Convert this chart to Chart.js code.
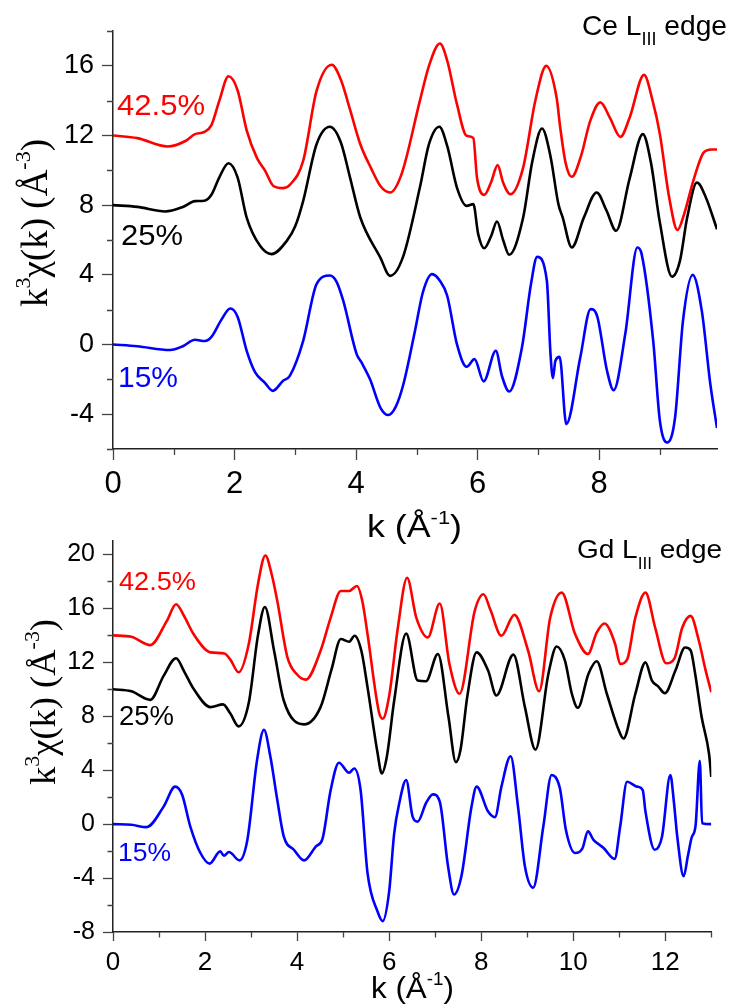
<!DOCTYPE html>
<html>
<head>
<meta charset="utf-8">
<script src="https://cdn.jsdelivr.net/npm/chart.js@4.4.1/dist/chart.umd.min.js"></script>
<style>
  html, body { margin: 0; padding: 0; background: #fff; }
  #wrap { position: relative; width: 731px; height: 1006px; overflow: hidden; }
  canvas { position: absolute; left: 0; }
  #ce { top: 0; }
  #gd { top: 500px; }
</style>
</head>
<body>
<div id="wrap">
  <canvas id="ce" width="731" height="560"></canvas>
  <canvas id="gd" width="731" height="506"></canvas>
</div>
<script>
// Ce L_III edge, k^3 chi(k), curves offset by 12 / 8 / 0
const ceK425 = [0, 0.4, 0.9, 1.2, 1.35, 1.5, 1.62, 1.75, 1.9, 2.05, 2.2, 2.37, 2.5, 2.64, 2.8, 2.92, 3.13, 3.35, 3.6, 3.75, 3.9, 4.07, 4.25, 4.4, 4.56, 4.75, 5.05, 5.2, 5.38, 5.5, 5.66, 5.82, 5.93, 5.99, 6.11, 6.22, 6.33, 6.42, 6.54, 6.75, 6.95, 7.13, 7.3, 7.36, 7.45, 7.55, 7.7, 7.85, 8.02, 8.18, 8.35, 8.5, 8.74, 8.88, 9.0, 9.15, 9.29, 9.4, 9.55, 9.72, 9.85, 9.94];
const ceY425 = [12.0, 11.85, 11.37, 11.7, 12.08, 12.2, 12.6, 14.0, 15.4, 14.6, 12.3, 10.7, 10.0, 9.1, 8.98, 9.2, 10.55, 14.56, 16.06, 15.2, 13.5, 11.5, 10.1, 9.1, 8.73, 9.8, 13.99, 16.0, 17.28, 16.3, 13.8, 11.98, 11.85, 9.59, 8.59, 9.3, 10.3, 9.3, 8.63, 10.16, 14.0, 16.0, 14.18, 12.46, 10.4, 9.63, 10.8, 12.8, 13.9, 13.0, 11.92, 13.0, 15.48, 14.0, 12.08, 8.5, 6.57, 7.5, 9.4, 11.02, 11.2, 11.2];
const ceK25 = [0, 0.4, 0.86, 1.15, 1.35, 1.5, 1.62, 1.75, 1.9, 2.05, 2.2, 2.42, 2.61, 2.86, 3.0, 3.13, 3.35, 3.57, 3.75, 3.9, 4.07, 4.4, 4.56, 4.77, 5.05, 5.2, 5.37, 5.5, 5.66, 5.82, 5.93, 6.01, 6.11, 6.22, 6.32, 6.42, 6.52, 6.75, 6.9, 7.06, 7.2, 7.33, 7.4, 7.55, 7.75, 7.96, 8.12, 8.28, 8.5, 8.72, 8.85, 9.0, 9.2, 9.33, 9.45, 9.61, 9.75, 9.94];
const ceY25 = [8.0, 7.9, 7.64, 7.9, 8.23, 8.25, 8.6, 9.6, 10.41, 9.6, 7.29, 5.67, 5.19, 5.95, 6.8, 8.25, 11.5, 12.5, 11.6, 9.6, 7.29, 4.99, 3.94, 5.0, 9.01, 11.5, 12.5, 11.4, 9.01, 7.96, 8.06, 6.34, 5.53, 6.2, 7.06, 6.0, 5.15, 7.29, 10.5, 12.4, 10.8, 8.06, 7.3, 5.57, 7.3, 8.73, 7.7, 6.53, 9.5, 12.08, 10.5, 7.0, 3.89, 4.8, 7.3, 9.3, 8.5, 6.62];
const ceK15 = [0, 0.4, 0.94, 1.15, 1.35, 1.51, 1.62, 1.78, 1.93, 2.05, 2.2, 2.34, 2.5, 2.63, 2.8, 2.91, 3.13, 3.35, 3.57, 3.68, 3.79, 4.01, 4.09, 4.23, 4.4, 4.53, 4.65, 4.78, 4.97, 5.1, 5.25, 5.38, 5.5, 5.66, 5.82, 5.95, 6.1, 6.3, 6.4, 6.52, 6.73, 6.88, 6.98, 7.14, 7.2, 7.24, 7.28, 7.35, 7.46, 7.69, 7.86, 7.97, 8.13, 8.24, 8.43, 8.63, 8.7, 8.89, 9.0, 9.12, 9.25, 9.38, 9.54, 9.69, 9.83, 9.94];
const ceY15 = [0, -0.1, -0.32, -0.1, 0.27, 0.2, 0.44, 1.4, 2.07, 1.6, -0.36, -1.6, -2.2, -2.66, -2.08, -1.8, 0.21, 3.47, 3.96, 3.6, 2.5, -0.55, -1.03, -2.0, -3.62, -4.05, -3.6, -2.27, 0.79, 3.0, 4.04, 3.66, 2.8, 0.02, -1.28, -0.84, -2.12, -0.36, -1.8, -2.7, -0.17, 3.5, 5.03, 3.66, -0.55, -1.93, -0.94, -0.71, -4.57, -0.74, 2.03, 1.6, -1.51, -2.62, 0.6, 5.57, 5.19, 0.21, -4.38, -5.63, -4.19, 1.36, 4.0, 1.93, -2.27, -4.8];

// Gd L_III edge, curves offset by 14 / 10 / 0
const gdK425 = [0, 0.4, 0.81, 1.17, 1.37, 1.55, 1.75, 2.12, 2.42, 2.55, 2.73, 2.95, 3.15, 3.31, 3.45, 3.57, 3.79, 4.0, 4.19, 4.51, 4.73, 4.95, 5.13, 5.3, 5.42, 5.53, 5.78, 5.86, 6.0, 6.19, 6.39, 6.59, 6.84, 7.1, 7.31, 7.53, 7.86, 8.05, 8.2, 8.44, 8.72, 9.02, 9.26, 9.5, 9.75, 10.04, 10.32, 10.51, 10.68, 10.91, 11.02, 11.17, 11.35, 11.57, 11.78, 12.02, 12.2, 12.37, 12.55, 12.73, 12.87, 13.0];
const gdY425 = [14.0, 13.9, 13.28, 15.08, 16.31, 15.4, 14.1, 12.74, 12.66, 12.2, 11.26, 13.36, 17.8, 19.93, 18.5, 16.55, 12.37, 11.1, 10.72, 12.86, 15.32, 17.29, 17.29, 17.66, 16.5, 14.1, 8.3, 7.82, 9.5, 14.58, 18.27, 15.32, 13.85, 16.36, 11.88, 9.67, 15.82, 17.05, 15.9, 13.97, 15.52, 12.86, 9.86, 15.32, 17.17, 14.1, 12.62, 14.21, 14.88, 13.36, 11.88, 12.2, 15.32, 17.17, 14.58, 11.93, 12.3, 14.58, 15.45, 13.6, 11.5, 9.79];
const gdK25 = [0, 0.4, 0.81, 1.1, 1.37, 1.55, 1.75, 2.12, 2.39, 2.55, 2.73, 2.95, 3.15, 3.3, 3.5, 3.71, 4.15, 4.51, 4.75, 4.95, 5.13, 5.25, 5.4, 5.53, 5.75, 5.84, 5.95, 6.11, 6.37, 6.62, 6.8, 7.06, 7.29, 7.45, 7.55, 7.7, 7.9, 8.15, 8.33, 8.7, 8.95, 9.18, 9.46, 9.64, 9.82, 9.97, 10.1, 10.33, 10.51, 10.73, 10.99, 11.09, 11.35, 11.57, 11.71, 11.85, 11.99, 12.22, 12.43, 12.55, 12.65, 12.79, 12.95, 13.0];
const gdY25 = [10.0, 9.85, 9.22, 11.0, 12.3, 11.3, 10.04, 8.68, 8.88, 8.2, 7.25, 9.0, 14.0, 16.11, 12.86, 9.17, 7.4, 8.68, 11.5, 13.73, 13.53, 13.97, 12.8, 10.16, 5.24, 3.76, 5.0, 9.17, 14.14, 10.65, 10.6, 12.62, 7.94, 4.6, 5.5, 9.5, 12.74, 11.39, 9.54, 12.57, 8.68, 5.53, 11.14, 13.18, 12.13, 9.67, 8.63, 11.14, 12.08, 9.67, 6.96, 6.35, 9.67, 12.0, 10.65, 10.2, 9.71, 11.39, 13.1, 12.9, 11.14, 7.94, 5.24, 3.5];
const gdK15 = [0, 0.4, 0.73, 1.1, 1.35, 1.5, 1.68, 1.9, 2.1, 2.33, 2.41, 2.52, 2.75, 2.92, 3.13, 3.28, 3.42, 3.57, 3.71, 3.93, 4.15, 4.41, 4.55, 4.73, 4.91, 5.13, 5.24, 5.38, 5.53, 5.75, 5.86, 6.0, 6.11, 6.22, 6.37, 6.51, 6.62, 6.8, 6.95, 7.1, 7.28, 7.41, 7.57, 7.79, 7.9, 8.15, 8.3, 8.44, 8.64, 8.8, 8.95, 9.13, 9.35, 9.53, 9.71, 9.84, 10.04, 10.2, 10.32, 10.44, 10.66, 10.9, 11.02, 11.17, 11.39, 11.51, 11.57, 11.77, 11.93, 12.11, 12.19, 12.26, 12.4, 12.49, 12.57, 12.66, 12.75, 12.8, 13.0];
const gdY15 = [0, -0.05, -0.22, 1.3, 2.78, 2.2, -0.18, -2.14, -2.93, -2.02, -2.34, -2.07, -2.69, -1.16, 4.75, 7.0, 4.99, 1.79, -0.91, -1.9, -2.69, -1.65, -1.11, 2.53, 4.55, 3.81, 4.13, 2.53, -3.62, -6.5, -7.19, -5.0, -0.66, 1.55, 3.27, 0.56, 0.19, 1.55, 2.21, 1.67, -3.13, -5.22, -3.87, 1.3, 2.78, 0.93, 0.52, 2.78, 5.04, 1.3, -3.13, -4.72, -0.18, 3.64, 2.66, -0.42, -2.14, -1.8, -0.54, -1.16, -1.77, -2.58, -0.18, 3.14, 2.78, 2.53, 0.93, -1.9, -0.91, 3.64, 1.55, -0.91, -3.87, -2.39, -1.03, -0.05, 4.69, 0.07, 0.0];

// ticks
const ceXTicks = [0, 2, 4, 6, 8];
const ceXMinor = [1, 3, 5, 7, 9];
const ceYTicks = [-4, 0, 4, 8, 12, 16];
const ceYMinor = [-6, -2, 2, 6, 10, 14, 18];
const gdXTicks = [0, 2, 4, 6, 8, 10, 12];
const gdXMinor = [1, 3, 5, 7, 9, 11, 13];
const gdYTicks = [-8, -4, 0, 4, 8, 12, 16, 20];
const gdYMinor = [-6, -2, 2, 6, 10, 14, 18];

const RED = "#ff0000";
const BLACK = "#000000";
const BLUE = "#0000ff";
const SANS = "'Liberation Sans', Arial, sans-serif";
const SERIF = "'Liberation Serif', 'Times New Roman', serif";

function pts(ks, ys) {
  return ks.map((k, i) => ({ x: k, y: ys[i] }));
}

function series(ks, ys, color) {
  return {
    data: pts(ks, ys),
    borderColor: color,
    borderWidth: 2.6,
    pointRadius: 0,
    fill: false,
    cubicInterpolationMode: "monotone",
  };
}

// text with super/subscripts, squeezed or stretched to the measured width
function drawRich(ctx, l) {
  ctx.save();
  ctx.translate(l.x, l.y);
  if (l.rotate) ctx.rotate(-Math.PI / 2);
  ctx.fillStyle = l.color || "#000";
  ctx.textBaseline = "alphabetic";
  ctx.textAlign = "left";
  const font = (p) => `${Math.round(l.size * (p[1] || 1))}px ${l.family || SANS}`;
  let natural = 0;
  l.parts.forEach((p) => {
    ctx.font = font(p);
    natural += ctx.measureText(p[0]).width;
  });
  const sx = l.width ? l.width / natural : 1;
  ctx.scale(sx, 1);
  let cx = 0;
  l.parts.forEach((p) => {
    ctx.font = font(p);
    ctx.fillText(p[0], cx, -(p[2] || 0) * l.size);
    cx += ctx.measureText(p[0]).width;
  });
  ctx.restore();
}

const extras = {
  id: "extras",
  afterDraw(chart, args, opts) {
    const { ctx, chartArea } = chart;
    const xs = chart.scales.x;
    const ys = chart.scales.y;
    ctx.save();
    ctx.strokeStyle = "#444";
    ctx.lineWidth = 1.3;
    ctx.beginPath();
    opts.xMinor.forEach((v) => {
      const px = Math.round(xs.getPixelForValue(v)) + 0.5;
      ctx.moveTo(px, chartArea.bottom);
      ctx.lineTo(px, chartArea.bottom + opts.minorLen);
    });
    opts.yMinor.forEach((v) => {
      const py = Math.round(ys.getPixelForValue(v)) + 0.5;
      ctx.moveTo(chartArea.left - opts.minorLen, py);
      ctx.lineTo(chartArea.left, py);
    });
    ctx.stroke();
    ctx.restore();
    opts.labels.forEach((l) => drawRich(ctx, l));
  },
};

function makeChart(id, cfg) {
  return new Chart(document.getElementById(id), {
    type: "line",
    data: { datasets: cfg.datasets },
    options: {
      responsive: false,
      animation: false,
      events: [],
      layout: { padding: { left: 0, top: cfg.top, right: cfg.right, bottom: 0 } },
      plugins: {
        legend: { display: false },
        tooltip: { enabled: false },
        extras: { xMinor: cfg.xMinor, yMinor: cfg.yMinor, minorLen: cfg.minorLen, labels: cfg.labels },
      },
      scales: {
        x: {
          type: "linear",
          min: cfg.xMin,
          max: cfg.xMax,
          afterBuildTicks: (s) => { s.ticks = cfg.xTicks.map((v) => ({ value: v })); },
          afterFit: (s) => { s.height = cfg.xHeight; },
          grid: { drawOnChartArea: false, tickLength: cfg.xTickLen, tickColor: "#444", tickWidth: 1.3 },
          border: { color: "#222", width: 1.5 },
          ticks: { color: "#000", font: { family: SANS, size: cfg.xFont }, padding: cfg.xPad, maxRotation: 0, autoSkip: false },
        },
        y: {
          type: "linear",
          min: cfg.yMin,
          max: cfg.yMax,
          afterBuildTicks: (s) => { s.ticks = cfg.yTicks.map((v) => ({ value: v })); },
          afterFit: (s) => { s.width = 113; },
          grid: { drawOnChartArea: false, tickLength: cfg.yTickLen, tickColor: "#444", tickWidth: 1.3 },
          border: { color: "#222", width: 1.5 },
          ticks: { color: "#000", font: { family: SANS, size: cfg.yFont }, padding: 8, autoSkip: false },
        },
      },
    },
    plugins: [extras],
  });
}

makeChart("ce", {
  datasets: [series(ceK425, ceY425, RED), series(ceK25, ceY25, BLACK), series(ceK15, ceY15, BLUE)],
  top: 31, right: 14,
  xMin: 0, xMax: 9.94, yMin: -6, yMax: 18,
  xTicks: ceXTicks, yTicks: ceYTicks, xMinor: ceXMinor, yMinor: ceYMinor,
  xHeight: 111, xTickLen: 11, yTickLen: 11, minorLen: 6,
  xFont: 31, yFont: 27, xPad: 6,
  labels: [
    { parts: [["Ce L"], ["III", 0.64, -0.36], [" edge"]], x: 582, y: 35, size: 28, width: 145 },
    { parts: [["42.5%"]], x: 117, y: 115, size: 29, width: 88, color: RED },
    { parts: [["25%"]], x: 121, y: 245, size: 30, width: 62, color: BLACK },
    { parts: [["15%"]], x: 118, y: 387, size: 29, width: 60, color: BLUE },
    { parts: [["k ("], ["Å"], ["-1", 0.6, 0.42], [")"]], x: 367, y: 537, size: 31, width: 95 },
    { parts: [["k"], ["3", 0.6, 0.45], ["χ(k) (Å"], ["-3", 0.6, 0.45], [")"]], x: 47, y: 307, size: 37, width: 168, rotate: true, family: SERIF },
  ],
});

makeChart("gd", {
  datasets: [series(gdK425, gdY425, RED), series(gdK25, gdY25, BLACK), series(gdK15, gdY15, BLUE)],
  top: 41, right: 19.7,
  xMin: 0, xMax: 13, yMin: -8, yMax: 21,
  xTicks: gdXTicks, yTicks: gdYTicks, xMinor: gdXMinor, yMinor: gdYMinor,
  xHeight: 74, xTickLen: 9, yTickLen: 10, minorLen: 5.5,
  xFont: 26, yFont: 25, xPad: 6,
  labels: [
    { parts: [["Gd L"], ["III", 0.6, -0.42], [" edge"]], x: 577, y: 58, size: 26, width: 145 },
    { parts: [["42.5%"]], x: 119, y: 90, size: 26, width: 77, color: RED },
    { parts: [["25%"]], x: 119, y: 225, size: 27, width: 55, color: BLACK },
    { parts: [["15%"]], x: 118, y: 361, size: 26, width: 53, color: BLUE },
    { parts: [["k ("], ["Å"], ["-1", 0.6, 0.42], [")"]], x: 371, y: 498, size: 30, width: 83 },
    { parts: [["k"], ["3", 0.6, 0.45], ["χ(k) (Å"], ["-3", 0.6, 0.45], [")"]], x: 55, y: 285, size: 35, width: 166, rotate: true, family: SERIF },
  ],
});
</script>
</body>
</html>
